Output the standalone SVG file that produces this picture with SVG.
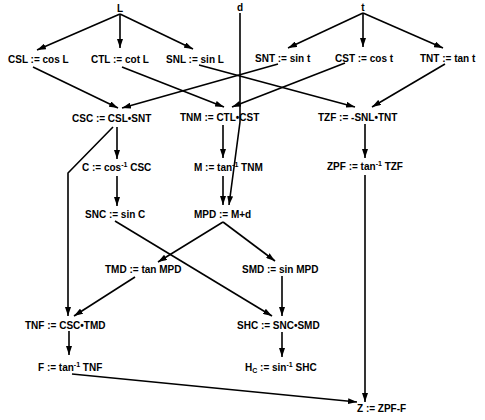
<svg xmlns="http://www.w3.org/2000/svg" width="485" height="420" viewBox="0 0 485 420">
<defs>
<marker id="ah" viewBox="0 0 9 6" refX="9" refY="3" markerWidth="9" markerHeight="6" markerUnits="userSpaceOnUse" orient="auto">
<path d="M0,0 L9,3 L0,6 Z" fill="#000"/>
</marker>
<style>
text{font-family:"Liberation Sans",Arial,sans-serif;font-weight:bold;font-size:10px;fill:#000}
.sup{font-size:7px}
.c line,.c polyline{stroke:#000;stroke-width:1.6;fill:none}
.a{marker-end:url(#ah)}
</style>
</defs>
<rect width="485" height="420" fill="#fff"/>
<g class="c" id="connectors">
<line class="a" x1="120" y1="14" x2="37" y2="50"/>
<line class="a" x1="120" y1="14" x2="120" y2="48"/>
<line class="a" x1="120" y1="14" x2="193" y2="49"/>
<line class="a" x1="363" y1="13" x2="288" y2="48"/>
<line class="a" x1="363" y1="13" x2="363" y2="47"/>
<line class="a" x1="363" y1="13" x2="443" y2="48"/>
<line class="a" x1="33" y1="67" x2="118" y2="108"/>
<line class="a" x1="278" y1="64" x2="122" y2="108"/>
<line class="a" x1="122" y1="67" x2="224" y2="107"/>
<line class="a" x1="345" y1="63" x2="232" y2="107"/>
<line class="a" x1="199" y1="65" x2="355" y2="107"/>
<line class="a" x1="445" y1="64" x2="372" y2="107"/>
<polyline class="a" points="240,13 240,122 229,205"/>
<line class="a" x1="117" y1="127" x2="117" y2="159"/>
<polyline class="a" points="113,127 68,173 68,316"/>
<line class="a" x1="117" y1="176" x2="117" y2="206"/>
<line class="a" x1="223" y1="125" x2="223" y2="158"/>
<line class="a" x1="223" y1="176" x2="223" y2="205"/>
<line class="a" x1="365" y1="124" x2="365" y2="158"/>
<line class="a" x1="365" y1="175" x2="365" y2="402"/>
<line class="a" x1="223" y1="222" x2="158" y2="262"/>
<line class="a" x1="223" y1="222" x2="275" y2="261"/>
<line class="a" x1="115" y1="221" x2="272" y2="316"/>
<line class="a" x1="135" y1="277" x2="74" y2="316"/>
<line class="a" x1="282" y1="276" x2="282" y2="316"/>
<line class="a" x1="282" y1="332" x2="282" y2="357"/>
<line class="a" x1="69" y1="331" x2="69" y2="355"/>
<line class="a" x1="72" y1="374" x2="357" y2="402"/>
</g>
<g id="L"><text x="120" y="12" text-anchor="middle">L</text></g>
<g id="d"><text x="240" y="11" text-anchor="middle">d</text></g>
<g id="t"><text x="363" y="11" text-anchor="middle">t</text></g>
<g id="CSL"><text x="8" y="63">CSL := cos L</text></g>
<g id="CTL"><text x="91" y="63">CTL := cot L</text></g>
<g id="SNL"><text x="166" y="63">SNL := sin L</text></g>
<g id="SNT"><text x="255" y="62">SNT := sin t</text></g>
<g id="CST"><text x="335" y="62">CST := cos t</text></g>
<g id="TNT"><text x="420" y="62">TNT := tan t</text></g>
<g id="CSC"><text x="72" y="122">CSC := CSL•SNT</text></g>
<g id="TNM"><text x="180" y="121">TNM := CTL•CST</text></g>
<g id="TZF"><text x="318" y="121">TZF := -SNL•TNT</text></g>
<g id="C"><text x="82" y="171">C := cos<tspan class="sup" dy="-4">-1</tspan><tspan dy="4">  CSC</tspan></text></g>
<g id="M"><text x="194" y="171">M := tan<tspan class="sup" dy="-4">-1</tspan><tspan dy="4"> TNM</tspan></text></g>
<g id="ZPF"><text x="327" y="170">ZPF := tan<tspan class="sup" dy="-4">-1</tspan><tspan dy="4"> TZF</tspan></text></g>
<g id="SNC"><text x="85" y="218">SNC := sin C</text></g>
<g id="MPD"><text x="194" y="218">MPD := M+d</text></g>
<g id="TMD"><text x="105" y="273">TMD := tan MPD</text></g>
<g id="SMD"><text x="242" y="273">SMD := sin MPD</text></g>
<g id="TNF"><text x="25" y="329">TNF := CSC•TMD</text></g>
<g id="SHC"><text x="237" y="329">SHC := SNC•SMD</text></g>
<g id="F"><text x="38" y="371">F := tan<tspan class="sup" dy="-4">-1</tspan><tspan dy="4"> TNF</tspan></text></g>
<g id="HC"><text x="245" y="371">H<tspan class="sup" dy="2">C</tspan><tspan dy="-2"> := sin</tspan><tspan class="sup" dy="-4">-1</tspan><tspan dy="4"> SHC</tspan></text></g>
<g id="Z"><text x="357" y="412">Z := ZPF-F</text></g>
</svg>
